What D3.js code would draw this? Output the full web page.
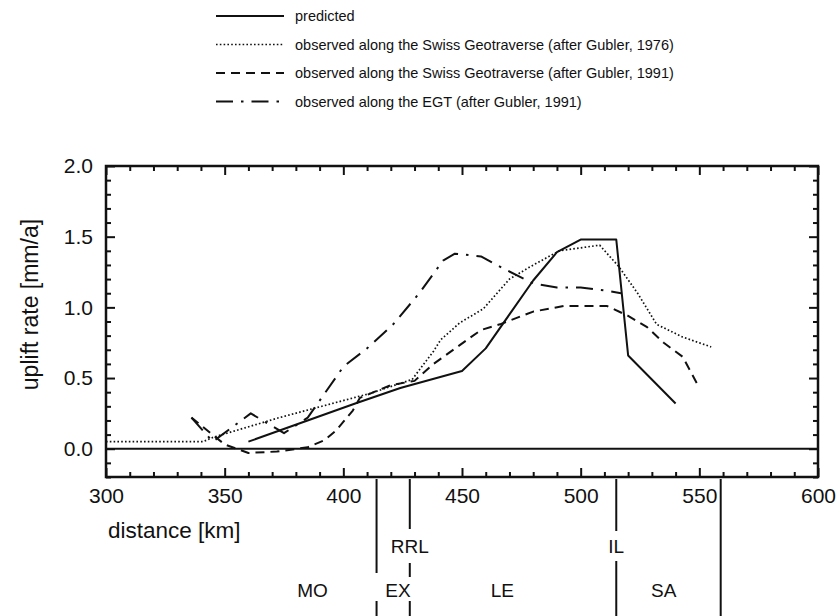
<!DOCTYPE html>
<html>
<head>
<meta charset="utf-8">
<script src="https://cdn.jsdelivr.net/npm/d3@7"></script>
<style>
body { margin: 0; background: #fff; }
svg text { font-family: "Liberation Sans", Arial, Helvetica, sans-serif; fill: #111; }
</style>
</head>
<body>
<svg id="chart" width="837" height="616"></svg>
<script>
// values (distance in km, uplift rate in mm/a)
var predictedKm   = [360, 405, 424, 450, 460, 470, 480, 490, 500, 515, 520, 540]
var predictedRate = [0.05, 0.32, 0.43, 0.55, 0.71, 0.95, 1.19, 1.39, 1.48, 1.48, 0.66, 0.32]

var gubler76Km   = [300, 341, 345, 373, 411, 429, 438, 441, 449, 459, 470, 479, 491, 508, 516, 524, 532, 543, 555]
var gubler76Rate = [0.05, 0.05, 0.08, 0.22, 0.39, 0.49, 0.69, 0.77, 0.89, 0.99, 1.20, 1.29, 1.40, 1.44, 1.29, 1.10, 0.88, 0.79, 0.72]

var gubler91Km   = [336, 350, 360, 372, 385, 392, 397, 404, 407, 420, 430, 438, 448, 458, 466, 480, 493, 511, 520, 528, 535, 543, 550]
var gubler91Rate = [0.22, 0.03, -0.03, -0.02, 0.01, 0.06, 0.13, 0.27, 0.36, 0.45, 0.48, 0.60, 0.72, 0.84, 0.88, 0.97, 1.01, 1.01, 0.94, 0.86, 0.75, 0.65, 0.43]

var egtKm   = [336, 345, 361, 375, 385, 400, 410, 421, 432, 442, 447, 458, 468, 480, 490, 500, 510, 517]
var egtRate = [0.22, 0.05, 0.25, 0.11, 0.22, 0.58, 0.71, 0.88, 1.10, 1.33, 1.38, 1.36, 1.27, 1.17, 1.14, 1.14, 1.12, 1.10]

var legendLabels = [
	'predicted',
	'observed along the Swiss Geotraverse (after Gubler, 1976)',
	'observed along the Swiss Geotraverse (after Gubler, 1991)',
	'observed along the EGT (after Gubler, 1991)'
]

var xTicks = [300, 350, 400, 450, 500, 550, 600]
var yTicks = [0.0, 0.5, 1.0, 1.5, 2.0]

// tectonic units below the axis
var boundaryKm = [414, 428, 515, 559]
var boundaryNames = ['', 'RRL', 'IL', '']
var unitNames = ['MO', 'EX', 'LE', 'SA']
var unitCentreKm = [387, 423, 467, 535]

var svg = d3.select('#chart')
var plot = {left: 106, right: 818, top: 166, bottom: 477}

var x = d3.scaleLinear().domain([300, 600]).range([plot.left, plot.right])
var y = d3.scaleLinear().domain([-0.2, 2.0]).range([plot.bottom, plot.top])

var styles = [
	{dash: null, width: 2},
	{dash: '1.6,2.2', width: 1.7},
	{dash: '9,6', width: 2},
	{dash: '17,8,2.5,8', width: 2}
]

// ticks, all pointing inward
var minorX = d3.range(300, 601, 10).filter(function(d) { return d % 50 != 0 })
var minorY = d3.range(-2, 21, 1).filter(function(d) { return Math.abs(d) % 5 != 0 }).map(function(d) { return d / 10 })

function tickAxis(g, axis) {
	g.call(axis)
	g.select('.domain').remove()
	g.selectAll('line').attr('stroke', '#111').attr('stroke-width', 2)
	g.selectAll('text').attr('fill', '#111').style('font-size', '21px')
		.style('font-family', '"Liberation Sans", Arial, Helvetica, sans-serif')
}

svg.append('g').attr('transform', 'translate(0,' + plot.bottom + ')')
	.call(tickAxis, d3.axisBottom(x).tickValues(minorX).tickSize(-5).tickFormat(''))
svg.append('g').attr('transform', 'translate(0,' + plot.bottom + ')')
	.call(tickAxis, d3.axisBottom(x).tickValues(xTicks).tickSize(-9).tickPadding(11).tickFormat(d3.format('d')))
svg.append('g').attr('transform', 'translate(0,' + plot.top + ')')
	.call(tickAxis, d3.axisTop(x).tickValues(minorX).tickSize(-5).tickFormat(''))
svg.append('g').attr('transform', 'translate(0,' + plot.top + ')')
	.call(tickAxis, d3.axisTop(x).tickValues(xTicks).tickSize(-9).tickFormat(''))

svg.append('g').attr('transform', 'translate(' + plot.left + ',0)')
	.call(tickAxis, d3.axisLeft(y).tickValues(minorY).tickSize(-5).tickFormat(''))
svg.append('g').attr('transform', 'translate(' + plot.left + ',0)')
	.call(tickAxis, d3.axisLeft(y).tickValues(yTicks).tickSize(-9).tickPadding(13).tickFormat(d3.format('.1f')))
svg.append('g').attr('transform', 'translate(' + plot.right + ',0)')
	.call(tickAxis, d3.axisRight(y).tickValues(minorY).tickSize(-5).tickFormat(''))
svg.append('g').attr('transform', 'translate(' + plot.right + ',0)')
	.call(tickAxis, d3.axisRight(y).tickValues(yTicks).tickSize(-9).tickFormat(''))

// frame and zero line
svg.append('rect').attr('x', plot.left).attr('y', plot.top)
	.attr('width', plot.right - plot.left).attr('height', plot.bottom - plot.top)
	.attr('fill', 'none').attr('stroke', '#111').attr('stroke-width', 2.5)
svg.append('line').attr('x1', plot.left).attr('x2', plot.right).attr('y1', y(0)).attr('y2', y(0))
	.attr('stroke', '#111').attr('stroke-width', 2)

// series
var series = [
	d3.zip(predictedKm, predictedRate),
	d3.zip(gubler76Km, gubler76Rate),
	d3.zip(gubler91Km, gubler91Rate),
	d3.zip(egtKm, egtRate)
]
var line = d3.line().x(function(d) { return x(d[0]) }).y(function(d) { return y(d[1]) })

svg.append('g').selectAll('path').data(series).enter().append('path')
	.attr('d', line)
	.attr('fill', 'none')
	.attr('stroke', '#111')
	.attr('stroke-width', function(d, i) { return styles[i].width })
	.attr('stroke-dasharray', function(d, i) { return styles[i].dash })
	.attr('stroke-linejoin', 'round')

// legend
var legend = svg.append('g').selectAll('g').data(legendLabels).enter().append('g')
	.attr('transform', function(d, i) { return 'translate(216,' + (16 + i * 28.5) + ')' })
legend.append('line').attr('x1', 0).attr('x2', 68).attr('y1', 0).attr('y2', 0)
	.attr('stroke', '#111')
	.attr('stroke-width', function(d, i) { return styles[i].width })
	.attr('stroke-dasharray', function(d, i) { return styles[i].dash })
legend.append('text').attr('x', 79).attr('dy', '0.35em').style('font-size', '14.5px').text(function(d) { return d })

// axis titles
svg.append('text').attr('x', 108).attr('y', 530).attr('dy', '0.35em').style('font-size', '22.5px').text('distance [km]')
svg.append('text').attr('transform', 'translate(30,' + y(1.02) + ') rotate(-90)')
	.attr('text-anchor', 'middle').attr('dy', '0.35em').style('font-size', '23px').text('uplift rate [mm/a]')

// unit boundaries: [boundary index, y1, y2]
var segments = [
	[0, 479, 573], [0, 601, 616],
	[1, 479, 529], [1, 563, 577], [1, 601, 616],
	[2, 479, 531], [2, 561, 616],
	[3, 479, 616]
]
svg.append('g').selectAll('line').data(segments).enter().append('line')
	.attr('x1', function(d) { return x(boundaryKm[d[0]]) })
	.attr('x2', function(d) { return x(boundaryKm[d[0]]) })
	.attr('y1', function(d) { return d[1] })
	.attr('y2', function(d) { return d[2] })
	.attr('stroke', '#111').attr('stroke-width', 2)

svg.append('g').selectAll('text').data(boundaryNames).enter().append('text')
	.attr('x', function(d, i) { return x(boundaryKm[i]) })
	.attr('y', 546).attr('dy', '0.35em').attr('text-anchor', 'middle')
	.style('font-size', '19px').text(function(d) { return d })

svg.append('g').selectAll('text').data(unitNames).enter().append('text')
	.attr('x', function(d, i) { return x(unitCentreKm[i]) })
	.attr('y', 590).attr('dy', '0.35em').attr('text-anchor', 'middle')
	.style('font-size', '19px').text(function(d) { return d })
</script>
</body>
</html>
